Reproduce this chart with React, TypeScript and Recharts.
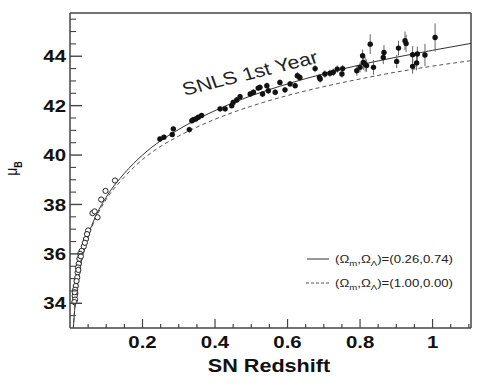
import React from 'react';
import { ComposedChart, Line, Scatter, XAxis, YAxis, ErrorBar, ReferenceLine } from 'recharts';

// Model curves (distance modulus vs redshift)
const curveZ = [0.009, 0.0093, 0.012, 0.015, 0.02, 0.03, 0.04, 0.05, 0.07, 0.1, 0.15, 0.2, 0.25, 0.3, 0.4, 0.5, 0.6, 0.7, 0.8, 0.9, 1.0, 1.106];
const lcdmMu = [32.95, 33.02, 33.58, 34.07, 34.7, 35.6, 36.24, 36.74, 37.5, 38.3, 39.26, 40.0, 40.58, 41.04, 41.8, 42.4, 42.88, 43.29, 43.65, 43.96, 44.24, 44.52];
const edsMu = [32.95, 33.01, 33.56, 34.05, 34.67, 35.56, 36.19, 36.68, 37.42, 38.21, 39.11, 39.82, 40.35, 40.77, 41.45, 41.98, 42.41, 42.77, 43.08, 43.36, 43.6, 43.82];

// Nearby supernovae (open circles)
const nearbyZ = [0.124, 0.098, 0.086, 0.062, 0.068, 0.076, 0.05, 0.047, 0.044, 0.038, 0.032, 0.028, 0.026, 0.024, 0.022, 0.021, 0.02, 0.018, 0.016, 0.014, 0.015, 0.013, 0.014, 0.012, 0.013, 0.023, 0.03, 0.041];
const nearbyMu = [38.97, 38.55, 38.2, 37.65, 37.72, 37.48, 36.95, 36.8, 36.6, 36.3, 36.12, 36.0, 35.8, 35.6, 35.45, 35.25, 35.05, 34.9, 34.7, 34.55, 34.4, 34.3, 34.15, 34.05, 34.45, 35.35, 35.9, 36.45];
const nearbyErr = [0.08, 0.08, 0.1, 0.1, 0.1, 0.1, 0.1, 0.1, 0.1, 0.1, 0.1, 0.1, 0.12, 0.12, 0.12, 0.12, 0.12, 0.14, 0.14, 0.15, 0.15, 0.15, 0.15, 0.15, 0.15, 0.12, 0.1, 0.1];

// SNLS first-year supernovae (filled circles)
const snlsZ = [0.248, 0.259, 0.282, 0.285, 0.329, 0.336, 0.34, 0.347, 0.354, 0.363, 0.414, 0.428, 0.446, 0.45, 0.46, 0.469, 0.497, 0.506, 0.519, 0.524, 0.531, 0.543, 0.547, 0.566, 0.579, 0.593, 0.607, 0.621, 0.627, 0.634, 0.676, 0.688, 0.69, 0.703, 0.717, 0.726, 0.737, 0.75, 0.752, 0.791, 0.8, 0.807, 0.809, 0.814, 0.818, 0.828, 0.837, 0.864, 0.866, 0.901, 0.906, 0.924, 0.927, 0.945, 0.945, 0.956, 0.958, 0.979, 1.007];
const snlsMu = [40.65, 40.72, 40.83, 41.06, 41.03, 41.39, 41.43, 41.46, 41.53, 41.6, 41.87, 41.87, 42.0, 42.13, 42.23, 42.36, 42.47, 42.54, 42.71, 42.74, 42.47, 42.81, 42.6, 42.54, 42.94, 42.64, 42.88, 42.81, 43.21, 43.14, 43.5, 43.14, 43.08, 43.28, 43.31, 43.35, 43.48, 43.28, 43.5, 43.41, 43.55, 44.02, 43.75, 43.68, 43.62, 44.49, 43.55, 43.95, 44.15, 43.79, 44.33, 44.63, 44.52, 44.06, 43.59, 43.73, 44.09, 44.05, 44.76];
const snlsErr = [0.1, 0.1, 0.1, 0.1, 0.12, 0.1, 0.1, 0.1, 0.1, 0.1, 0.12, 0.12, 0.12, 0.12, 0.12, 0.12, 0.12, 0.12, 0.12, 0.12, 0.12, 0.12, 0.12, 0.12, 0.12, 0.12, 0.12, 0.12, 0.15, 0.15, 0.15, 0.15, 0.15, 0.15, 0.15, 0.15, 0.15, 0.15, 0.15, 0.2, 0.2, 0.25, 0.3, 0.3, 0.25, 0.4, 0.3, 0.27, 0.3, 0.27, 0.3, 0.37, 0.35, 0.35, 0.3, 0.3, 0.3, 0.45, 0.57];

// Ticks
const xTickValues = [0.05, 0.1, 0.15, 0.2, 0.25, 0.3, 0.35, 0.4, 0.45, 0.5, 0.55, 0.6, 0.65, 0.7, 0.75, 0.8, 0.85, 0.9, 0.95, 1.0, 1.05, 1.1];
const xMajorValues = [0.2, 0.4, 0.6, 0.8, 1.0];
const xMajorLabels = ['0.2', '0.4', '0.6', '0.8', '1'];
const yTickValues = [33.5, 34, 34.5, 35, 35.5, 36, 36.5, 37, 37.5, 38, 38.5, 39, 39.5, 40, 40.5, 41, 41.5, 42, 42.5, 43, 43.5, 44, 44.5, 45, 45.5];
const yMajorValues = [34, 36, 38, 40, 42, 44];
const yMajorLabels = ['34', '36', '38', '40', '42', '44'];

const X_DOMAIN: [number, number] = [0, 1.106];
const Y_DOMAIN: [number, number] = [33, 45.75];

const lcdmData = curveZ.map((z, i) => ({ z, mu: lcdmMu[i] }));
const edsData = curveZ.map((z, i) => ({ z, mu: edsMu[i] }));
const nearbyData = nearbyZ.map((z, i) => ({ z, mu: nearbyMu[i], err: nearbyErr[i] }));
const snlsData = snlsZ.map((z, i) => ({ z, mu: snlsMu[i], err: snlsErr[i] }));

const W = 491;
const H = 387;
const PLOT_LEFT = 70;
const PLOT_BOTTOM = 328;
const FONT = '"Liberation Sans", Arial, Helvetica, sans-serif';
const AXIS_COLOR = '#444';

const XTick = (props: any) => {
  const { x, payload } = props;
  const v = payload.value;
  const idx = xMajorValues.findIndex((m) => Math.abs(m - v) < 1e-6);
  const major = idx >= 0;
  return (
    <g>
      <line x1={x} x2={x} y1={PLOT_BOTTOM} y2={PLOT_BOTTOM - (major ? 9 : 4)} stroke={AXIS_COLOR} strokeWidth={1.2} />
      {major && (
        <text
          transform={`translate(${x},348) scale(1.2,1)`}
          textAnchor="middle"
          fontFamily={FONT}
          fontWeight="bold"
          fontSize={17}
          fill="#111"
        >
          {xMajorLabels[idx]}
        </text>
      )}
    </g>
  );
};

const YTick = (props: any) => {
  const { y, payload } = props;
  const v = payload.value;
  const idx = yMajorValues.findIndex((m) => Math.abs(m - v) < 1e-6);
  const major = idx >= 0;
  return (
    <g>
      <line x1={PLOT_LEFT} x2={PLOT_LEFT + (major ? 12 : 6)} y1={y} y2={y} stroke={AXIS_COLOR} strokeWidth={major ? 1.4 : 1.1} />
      {major && (
        <text
          transform={`translate(${PLOT_LEFT - 4},${y}) scale(1.2,1)`}
          textAnchor="end"
          dy="0.36em"
          fontFamily={FONT}
          fontWeight="bold"
          fontSize={17}
          fill="#111"
        >
          {yMajorLabels[idx]}
        </text>
      )}
    </g>
  );
};

const FilledDot = (props: any) => {
  const { cx, cy } = props;
  if (cx == null || cy == null) return null;
  return <circle cx={cx} cy={cy} r={2.7} fill="#111" />;
};

const OpenDot = (props: any) => {
  const { cx, cy } = props;
  if (cx == null || cy == null) return null;
  return <circle cx={cx} cy={cy} r={2.6} fill="#fff" stroke="#222" strokeWidth={1} />;
};

const LegendLabel = ({ x, y, text }: { x: number; y: number; text: string }) => (
  <text transform={`translate(${x},${y}) scale(1.2,1)`} fontFamily={FONT} fontSize={11} fill="#222" dy="0.35em">
    {'(Ω'}
    <tspan fontSize={8} dy={3}>m</tspan>
    <tspan dy={-3}>{',Ω'}</tspan>
    <tspan fontSize={8} dy={3}>Λ</tspan>
    <tspan dy={-3}>{text}</tspan>
  </text>
);

export default function App() {
  return (
    <div style={{ position: 'absolute', left: 0, top: 0, width: W, height: H, background: '#fff' }}>
      <ComposedChart width={W} height={H} margin={{ top: 13, right: 20, bottom: 0, left: 0 }}>
        <XAxis
          dataKey="z"
          type="number"
          domain={X_DOMAIN}
          allowDataOverflow
          ticks={xTickValues}
          interval={0}
          height={59}
          tickLine={false}
          axisLine={{ stroke: AXIS_COLOR, strokeWidth: 1.5 }}
          tick={XTick}
        />
        <YAxis
          dataKey="mu"
          type="number"
          domain={Y_DOMAIN}
          allowDataOverflow
          ticks={yTickValues}
          interval={0}
          width={70}
          tickLine={false}
          axisLine={{ stroke: AXIS_COLOR, strokeWidth: 1.5 }}
          tick={YTick}
        />
        <ReferenceLine y={Y_DOMAIN[1]} stroke={AXIS_COLOR} strokeWidth={1.5} />
        <ReferenceLine x={X_DOMAIN[1]} stroke={AXIS_COLOR} strokeWidth={1.5} />
        <Line
          data={edsData}
          dataKey="mu"
          type="monotone"
          dot={false}
          stroke="#555"
          strokeWidth={1}
          strokeDasharray="4 3"
          isAnimationActive={false}
        />
        <Line
          data={lcdmData}
          dataKey="mu"
          type="monotone"
          dot={false}
          stroke="#333"
          strokeWidth={1}
          isAnimationActive={false}
        />
        <Scatter data={nearbyData} dataKey="mu" shape={OpenDot} isAnimationActive={false}>
          <ErrorBar dataKey="err" direction="y" width={0} stroke="#666" strokeWidth={1} />
        </Scatter>
        <Scatter data={snlsData} dataKey="mu" shape={FilledDot} isAnimationActive={false}>
          <ErrorBar dataKey="err" direction="y" width={0} stroke="#666" strokeWidth={1} />
        </Scatter>
      </ComposedChart>
      <svg width={W} height={H} style={{ position: 'absolute', left: 0, top: 0, pointerEvents: 'none' }}>
        <text
          transform="translate(250,73) scale(1.2,1) rotate(-16.6)"
          textAnchor="middle"
          dy="0.35em"
          fontFamily={FONT}
          fontSize={18}
          fill="#222"
        >
          SNLS 1st Year
        </text>
        <line x1={307} x2={329} y1={259} y2={259} stroke="#333" strokeWidth={1} />
        <LegendLabel x={335} y={259} text=")=(0.26,0.74)" />
        <line x1={306} x2={330} y1={283} y2={283} stroke="#555" strokeWidth={1} strokeDasharray="3 2" />
        <LegendLabel x={335} y={283} text=")=(1.00,0.00)" />
        <text
          transform="translate(269,372) scale(1.2,1)"
          textAnchor="middle"
          fontFamily={FONT}
          fontWeight="bold"
          fontSize={18}
          fill="#111"
        >
          SN Redshift
        </text>
        <text transform="translate(17,168.5) scale(1.2,1) rotate(-90)" textAnchor="middle" fontFamily={FONT} fill="#111">
          <tspan fontSize={14}>μ</tspan>
          <tspan fontSize={9} fontWeight="bold" dy={4}>B</tspan>
        </text>
      </svg>
    </div>
  );
}
